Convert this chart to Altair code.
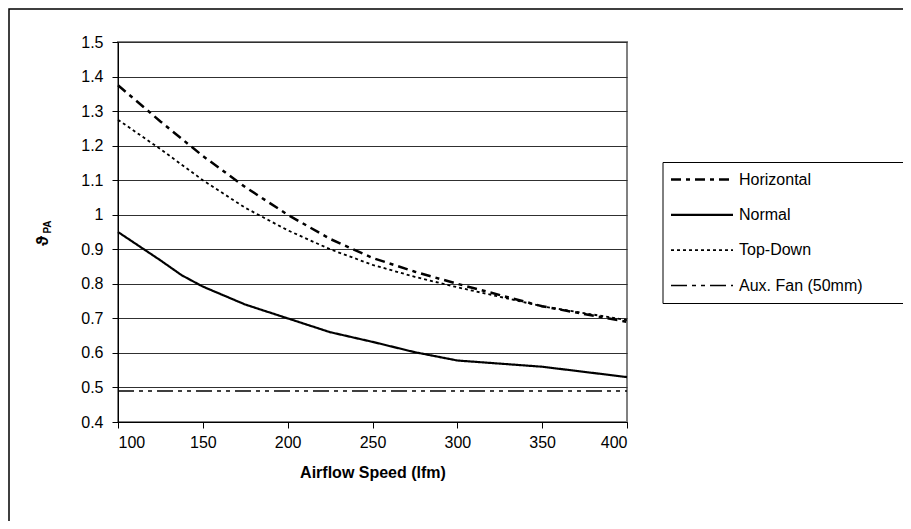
import altair as alt
import pandas as pd

series_names = ["Horizontal", "Normal", "Top-Down", "Aux. Fan (50mm)"]

horiz_x = [100, 125, 150, 175, 200, 225, 250, 275, 300, 350, 400]
horiz_y = [1.375, 1.27, 1.17, 1.08, 1.0, 0.93, 0.875, 0.835, 0.80, 0.735, 0.69]

normal_x = [100, 125, 137.5, 150, 175, 200, 225, 250, 275, 300, 350, 400]
normal_y = [0.95, 0.868, 0.825, 0.792, 0.74, 0.70, 0.66, 0.632, 0.602, 0.578, 0.56, 0.53]

topdown_x = [100, 125, 150, 175, 200, 225, 250, 275, 300, 350, 400]
topdown_y = [1.275, 1.19, 1.10, 1.02, 0.955, 0.90, 0.855, 0.82, 0.79, 0.735, 0.695]

aux_x = [100, 400]
aux_y = [0.49, 0.49]

x_ticks = [100, 150, 200, 250, 300, 350, 400]
y_ticks = [0.4, 0.5, 0.6, 0.7, 0.8, 0.9, 1.0, 1.1, 1.2, 1.3, 1.4, 1.5]

dash_patterns = [[10, 5, 4, 5], [1, 0], [3, 3], [16, 5, 4, 5, 4, 5]]
line_widths = [2.5, 1.5, 1.5, 2]

rows = []
for name, xs, ys in [
    ("Horizontal", horiz_x, horiz_y),
    ("Normal", normal_x, normal_y),
    ("Top-Down", topdown_x, topdown_y),
    ("Aux. Fan (50mm)", aux_x, aux_y),
]:
    for i, (a, b) in enumerate(zip(xs, ys)):
        rows.append({"series": name, "speed": a, "value": b, "order": i})
df = pd.DataFrame(rows)

legend_df = pd.DataFrame({"series": series_names, "rank": list(range(len(series_names)))})

FONT = "Liberation Sans"

dash_scale = alt.Scale(domain=series_names, range=dash_patterns)
width_scale = alt.Scale(domain=series_names, range=line_widths)

lines = alt.Chart(df).mark_line(color="black", strokeCap="butt").encode(
    x=alt.X("speed:Q",
            scale=alt.Scale(domain=[100, 400], nice=False, zero=False),
            axis=alt.Axis(values=x_ticks, title="Airflow Speed (lfm)", grid=False,
                          tickSize=6, labelPadding=6, titlePadding=14)),
    y=alt.Y("value:Q",
            scale=alt.Scale(domain=[0.4, 1.5], nice=False, zero=False),
            axis=alt.Axis(values=y_ticks, title=None, grid=True,
                          labelExpr="format(datum.value, '.1~f')",
                          tickSize=6, labelPadding=9)),
    detail="series:N",
    order="order:Q",
    strokeDash=alt.StrokeDash("series:N", scale=dash_scale, legend=None),
    strokeWidth=alt.StrokeWidth("series:N", scale=width_scale, legend=None),
)

frame = alt.Chart(alt.Data(values=[{}])).mark_rect(
    fill="transparent", stroke="black", strokeWidth=1.5
).encode(
    x=alt.value(-109), x2=alt.value(830), y=alt.value(-33), y2=alt.value(520)
)

legend_box = alt.Chart(alt.Data(values=[{}])).mark_rect(
    fill="white", stroke="black", strokeWidth=1
).encode(
    x=alt.value(545), x2=alt.value(790), y=alt.value(120.5), y2=alt.value(261.5)
)

leg_y = alt.Y("rank:O", scale=alt.Scale(type="point", range=[137.5, 243.5], padding=0),
              axis=None)

legend_lines = alt.Chart(legend_df).mark_rule(color="black", strokeCap="butt").encode(
    x=alt.value(553), x2=alt.value(615),
    y=leg_y,
    strokeDash=alt.StrokeDash("series:N", scale=dash_scale, legend=None),
    strokeWidth=alt.StrokeWidth("series:N", scale=width_scale, legend=None),
)

legend_text = alt.Chart(legend_df).mark_text(
    align="left", baseline="middle", fontSize=16, font=FONT, color="black"
).encode(
    x=alt.value(621), y=leg_y, text="series:N"
)

theta = alt.Chart(alt.Data(values=[{}])).mark_text(
    text="ϑ", angle=270, fontSize=17, fontWeight="bold", font=FONT, color="black"
).encode(x=alt.value(-75), y=alt.value(199))

sub = alt.Chart(alt.Data(values=[{}])).mark_text(
    text="PA", angle=270, fontSize=10, fontWeight="bold", font=FONT, color="black"
).encode(x=alt.value(-70), y=alt.value(185))

legend_layer = alt.layer(legend_box, legend_lines, legend_text)

chart = alt.layer(frame, lines, theta, sub, legend_layer).resolve_scale(
    y="independent"
).properties(
    width=509, height=380,
    background="white",
    autosize=alt.AutoSizeParams(type="none"),
    padding={"left": 110, "top": 34, "right": 276, "bottom": 99},
).configure_view(
    stroke="#808080", strokeWidth=2
).configure_axis(
    labelFont=FONT, labelFontSize=16, labelColor="black",
    titleFont=FONT, titleFontSize=16, titleFontWeight="bold", titleColor="black",
    domainColor="black", tickColor="black", gridColor="#303030", gridWidth=1,
    domainWidth=1, tickWidth=1,
)

chart.save("out.html", embed_options={"renderer": "svg", "actions": False})
